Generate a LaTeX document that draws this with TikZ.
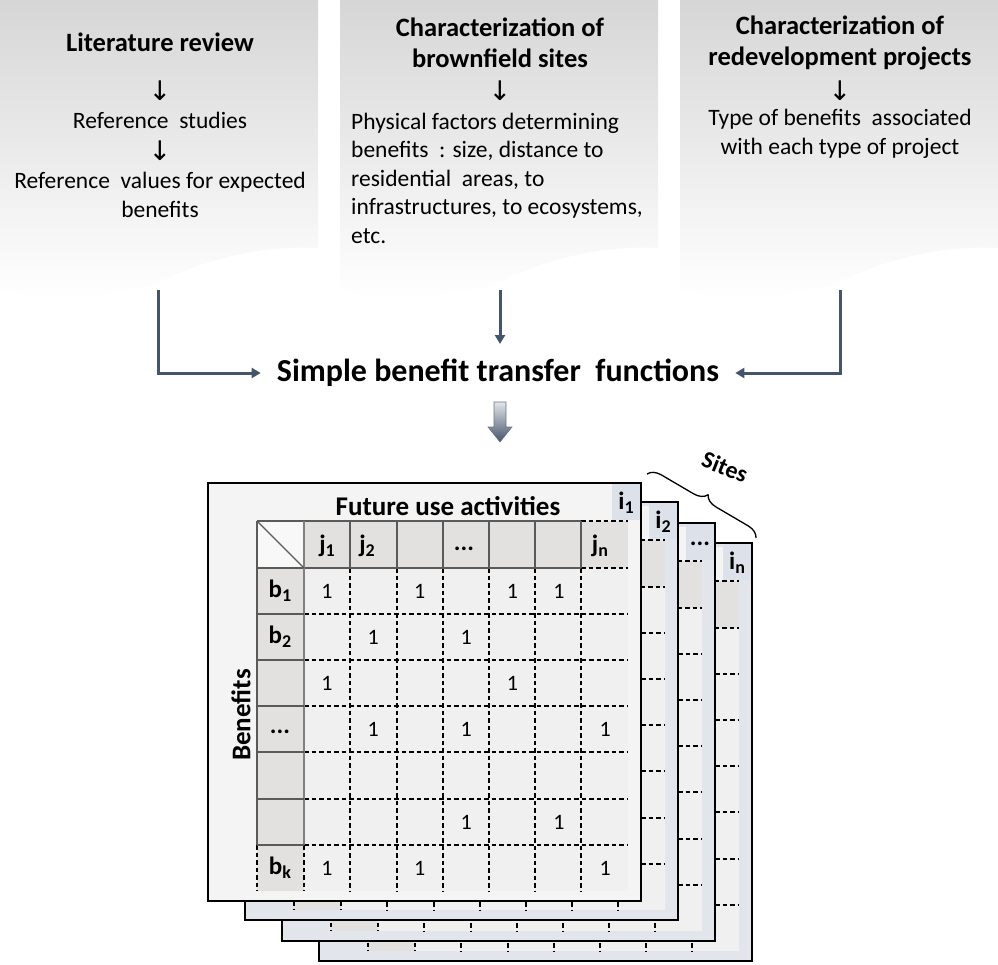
\documentclass[tikz,border=0pt]{standalone}
\usepackage{fontspec}
\setmainfont{Carlito}
\newfontfamily\arrowfont{DejaVu Sans}
\usetikzlibrary{arrows.meta,decorations.pathreplacing,calc}
\definecolor{slate}{HTML}{44546A}
\definecolor{boxgray}{HTML}{D6D6D6}
\definecolor{hdrfill}{HTML}{E3E0E0}
\definecolor{cellfill}{HTML}{F0F0F0}
\definecolor{cornerfill}{HTML}{F8F8F8}
\definecolor{frontfill}{HTML}{F4F4F4}
\definecolor{backfill}{HTML}{E2E6EC}
\definecolor{labfill}{HTML}{DDE1EA}
\definecolor{sgray}{HTML}{5A5A5A}
\newcommand\sub[1]{\raisebox{-0.35ex}{\fontsize{18}{18}\selectfont #1}}
\newcommand\darr{{\arrowfont\fontsize{27}{27}\selectfont ↓}}
\newcommand\hdots{\raisebox{-0.45ex}{...}}
\tikzset{
  title/.style={font=\fontsize{26.5}{31}\selectfont\bfseries, align=center, inner sep=0pt},
  body/.style={font=\fontsize{23.5}{28.5}\selectfont, align=center, inner sep=0pt},
  conn/.style={draw=slate, line width=3pt, -{Triangle[length=9pt,width=10pt]}},
  dline/.style={draw=black, line width=1.3pt, dash pattern=on 4.5pt off 3pt},
  sline/.style={draw=sgray, line width=1.2pt},
  lay/.style={draw=black, line width=2pt},
  hdr/.style={font=\fontsize{25}{25}\selectfont\bfseries, inner sep=0pt},
  num/.style={font=\fontsize{22}{22}\selectfont, inner sep=0pt},
}
\newcommand\matgrid{%
  \fill[hdrfill] (304,521) rectangle (628,568);
  \fill[hdrfill] (257,568) rectangle (304,891);
  \fill[cornerfill] (257,521) rectangle (304,568);
  \fill[cellfill] (304,568) rectangle (628,891);
  \foreach \yy in {614,660,706,752,799,845} \draw[dline] (304,\yy) -- (628,\yy);
  \foreach \xx in {350,397,443,489,535,581} \draw[dline] (\xx,568) -- (\xx,891);
  \draw[dline] (581,521) -- (628,521) (581,568) -- (628,568);
  \draw[dline] (257,845) -- (257,891) (304,845) -- (304,891);
  \draw[sline] (257,521) -- (581,521) (257,568) -- (581,568);
  \foreach \xx in {257,350,397,443,489,535,581} \draw[sline] (\xx,521) -- (\xx,568);
  \draw[sline] (257,568) -- (257,845);
  \draw[draw=gray, line width=2.2pt] (304,521) -- (304,845);
  \foreach \yy in {614,660,706,752,799,845} \draw[sline] (257,\yy) -- (304,\yy);
  \draw[sline] (257,521) -- (304,568);
}
\begin{document}
\begin{tikzpicture}[x=1pt,y=-1pt]
\useasboundingbox (0,0) rectangle (998,964);
% top document boxes
\shade[top color=boxgray, bottom color=white] (0,0) -- (318,0) -- (318,248)
  .. controls (255,245) and (200,262) .. (160,282) .. controls (120,298) and (50,298) .. (0,292) -- cycle;
\shade[top color=boxgray, bottom color=white] (340,0) -- (658,0) -- (658,248)
  .. controls (595,245) and (540,262) .. (500,282) .. controls (460,298) and (390,298) .. (340,292) -- cycle;
\shade[top color=boxgray, bottom color=white] (680,0) -- (998,0) -- (998,248)
  .. controls (935,245) and (880,262) .. (840,282) .. controls (800,298) and (730,298) .. (680,292) -- cycle;

% box 1
\node[title] (lit) at (160,42) {Literature review};
\node[inner sep=0pt] (a1) at (160,91) {\darr};
\node[body] (refst) at (160,120) {Reference\ \ studies};
\node[inner sep=0pt] (a2) at (160,151) {\darr};
\node[body] (refval) at (160,195) {Reference\ \ values for expected\\benefits};
% box 2
\node[title] (char1) at (500,43) {Characterization of\\brownfield sites};
\node[inner sep=0pt] (a3) at (500,91) {\darr};
\node[body, align=left, anchor=west] (phys) at (351,178) {Physical factors determining\\benefits\ \ : size, distance to\\residential\ \ areas, to\\infrastructures,\ to ecosystems,\\etc.};
% box 3
\node[title] (char2) at (840,43) {Characterization of\\redevelopment projects};
\node[inner sep=0pt] (a4) at (840,91) {\darr};
\node[body] (type) at (840,134) {Type of benefits\ \ associated\\with each type of project};

% central node
\node[font=\fontsize{32}{32}\selectfont\bfseries, inner sep=0pt] (sbt) at (498,373) {Simple benefit transfer\ \ functions};
\coordinate (l0) at (158,290);
\coordinate (m0) at (500,290);
\coordinate (r0) at (840,290);
\draw[conn, shorten >=16pt] (l0) |- (sbt);
\draw[conn] (m0) -- (500,344);
\draw[conn, shorten >=16pt] (r0) |- (sbt);

% block arrow
\shade[top color=slate!15, bottom color=slate, draw=slate!80, line width=0.6pt]
  (494,402) -- (506,402) -- (506,427) -- (512,427) -- (500,442) -- (488,427) -- (494,427) -- cycle;

% back layers
\foreach \dx/\dy/\lab/\nm in {111/60/{i\sub{n}}/ln, 74/40/{\hdots}/l3, 37/19/{i\sub{2}}/l2}{
  \begin{scope}[shift={(\dx,\dy)}]
    \filldraw[lay, fill=backfill] (208,483) rectangle (641,901);
    \fill[frontfill] (212,487) rectangle (628,521);
    \matgrid
    \fill[labfill] (612,484) rectangle (640,520);
    \node[hdr] (lab-\nm) at (626,503) {\lab};
  \end{scope}
}
% front layer
\filldraw[lay, fill=frontfill] (208,483) rectangle (641,901);
\matgrid
\fill[labfill] (612,484) rectangle (640,520);
\node[hdr] (lab-1) at (626,503) {i\sub{1}};
\node[font=\fontsize{27}{27}\selectfont\bfseries, inner sep=0pt] (fua) at (448,506) {Future use activities};
\node[font=\fontsize{27}{27}\selectfont\bfseries, inner sep=0pt, rotate=90] (ben) at (241,715) {Benefits};
% header labels
\node[hdr] (h1) at (327,546) {j\sub{1}};
\node[hdr] (h2) at (367,546) {j\sub{2}};
\node[hdr] (h4) at (464,548) {\hdots};
\node[hdr] (hn) at (600,546) {j\sub{n}};
% row labels
\node[hdr] (b1) at (280,591) {b\sub{1}};
\node[hdr] (b2) at (280,637) {b\sub{2}};
\node[hdr] (b4) at (280,731) {\hdots};
\node[hdr] (bk) at (280,868) {b\sub{k}};
% ones
\foreach \r/\c in {1/1,1/3,1/5,1/6,2/2,2/4,3/1,3/5,4/2,4/4,4/7,6/4,6/6,7/1,7/3,7/7}{
  \node[num] (one-\r-\c) at ({280.5+46.4*\c},{545+46.2*\r}) {1};
}
% sites brace
\coordinate (sa) at (647,474);
\coordinate (sb) at (756,538);
\draw[line width=1.3pt, decorate, decoration={brace, amplitude=13pt, aspect=0.5}] (sa) -- (sb);
\node[font=\fontsize{24}{24}\selectfont\bfseries, rotate=-22, inner sep=0pt] (sites) at (725,467) {Sites};
\end{tikzpicture}
\end{document}
